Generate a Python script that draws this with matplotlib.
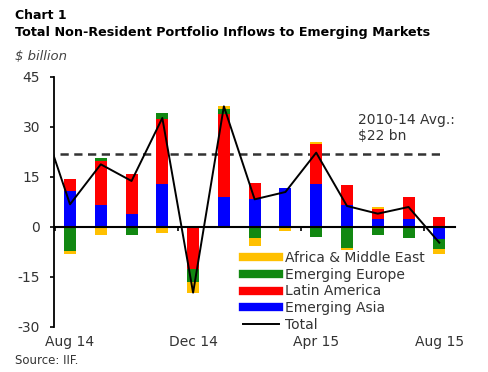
import numpy as np
import matplotlib.pyplot as plt
from matplotlib.lines import Line2D

plt.rcParams['font.family'] = ['DejaVu Sans']
plt.rcParams['axes.unicode_minus'] = False

# months on the x axis (Jul 14 only shows as the start of the line)
months = ['Jul 14', 'Aug 14', 'Sep 14', 'Oct 14', 'Nov 14', 'Dec 14', 'Jan 15',
          'Feb 15', 'Mar 15', 'Apr 15', 'May 15', 'Jun 15', 'Jul 15', 'Aug 15']
bar_months = months[1:]

# $ billion, Aug 14 .. Aug 15
asia = [10.8, 6.5, 3.8, 12.8, 0.0, 9.0, 8.5, 11.8, 13.0, 6.5, 2.5, 2.5, -3.7]
latam = [3.7, 13.3, 12.0, 19.6, -12.7, 24.9, 4.8, 0.0, 11.8, 6.0, 3.0, 6.5, 3.0]
europe = [-7.2, 0.9, -2.4, 1.8, -3.7, 1.6, -3.2, 0.0, -3.0, -6.2, -2.5, -3.4, -3.0]
africa = [-0.8, -2.4, 0.0, -1.7, -3.3, 0.9, -2.5, -1.3, 0.7, -0.8, 0.6, 0.0, -1.3]
total = [34.3, 6.8, 18.8, 13.8, 32.7, -19.7, 36.2, 8.3, 10.5, 22.3, 6.3, 4.0, 6.0, -4.7]
avg_2010_14 = 22

labels = ['Emerging Asia', 'Latin America', 'Emerging Europe', 'Africa & Middle East']
colors = ['#0000FF', '#FF0000', '#118811', '#FFC000']
series = [asia, latam, europe, africa]

x_all = np.arange(len(months))
x = x_all[1:]

fig = plt.figure(figsize=(4.88, 3.72), dpi=100)
ax = fig.add_axes([54/488, 1-327/372, 401/488, 250/372])

pos_base = np.zeros(len(x))
neg_base = np.zeros(len(x))
for vals, col, lab in zip(series, colors, labels):
    v = np.array(vals)
    base = np.where(v >= 0, pos_base, neg_base)
    ax.bar(x, v, width=0.39, bottom=base, color=col, label=lab, zorder=2)
    pos_base += np.where(v >= 0, v, 0)
    neg_base += np.where(v < 0, v, 0)

ax.plot(x_all, total, color='black', lw=1.4, zorder=4)
ax.hlines(avg_2010_14, 0.69, 13.02, colors='#333333', linestyles=(0, (3.3, 2.2)),
          lw=1.8, zorder=1)
ax.text(10.36, 34.2, '2010-14 Avg.:\n$22 bn', fontsize=10, color='#333333',
        va='top', ha='left', linespacing=1.15)

ax.set_xlim(0.48, 13.51)
ax.set_ylim(-30, 45)
ax.set_yticks([-30, -15, 0, 15, 30, 45])
ax.tick_params(axis='y', length=3, width=1.2, pad=7, labelsize=10,
               labelcolor='#333333')

for s in ['top', 'right']:
    ax.spines[s].set_visible(False)
ax.spines['left'].set_linewidth(1.3)
ax.spines['bottom'].set_position(('data', 0))
ax.spines['bottom'].set_linewidth(1.5)
ax.spines['bottom'].set_zorder(3)
ax.set_xticks(np.arange(0.5, 14, 4))
ax.tick_params(axis='x', length=3, width=1.2, labelbottom=False)

sec = ax.secondary_xaxis('bottom')
sec.spines['bottom'].set_visible(False)
sec.set_xticks(x[::4])
sec.set_xticklabels(bar_months[::4])
sec.tick_params(length=0, pad=6, labelsize=10, labelcolor='#333333')

handles = [Line2D([], [], color=colors[3], lw=6),
           Line2D([], [], color=colors[2], lw=6),
           Line2D([], [], color=colors[1], lw=6),
           Line2D([], [], color=colors[0], lw=6),
           Line2D([], [], color='black', lw=1.4)]
leg_labels = ['Africa & Middle East', 'Emerging Europe', 'Latin America',
              'Emerging Asia', 'Total']
ax.legend(handles, leg_labels, loc='lower left', bbox_to_anchor=(0.471, -0.02),
          frameon=False, fontsize=10, handlelength=2.6, handletextpad=0.45,
          labelspacing=0.2, borderpad=0, borderaxespad=0, labelcolor='#333333')

fig.text(15/488, 1-9/372, 'Chart 1', fontsize=9, fontweight='bold', va='top')
fig.text(15/488, 1-26/372, 'Total Non-Resident Portfolio Inflows to Emerging Markets',
         fontsize=9.2, fontweight='bold', va='top')
fig.text(15/488, 1-50/372, '$ billion', fontsize=9.5, style='italic',
         color='#444444', va='top')
fig.text(15/488, 1-354/372, 'Source: IIF.', fontsize=8.5, color='#333333', va='top')

fig.savefig('out.png', dpi=100)
